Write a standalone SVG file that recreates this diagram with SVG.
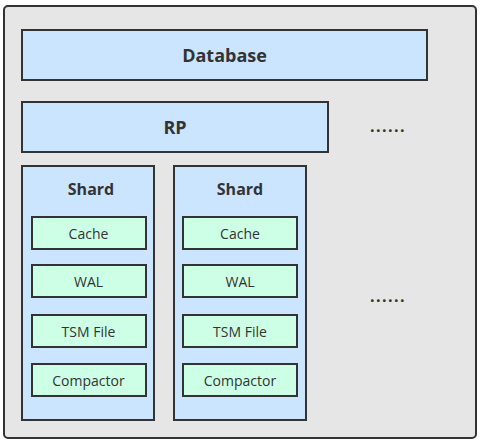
<svg xmlns="http://www.w3.org/2000/svg" width="482" height="442" viewBox="0 0 482 442">
<style>
.frame{fill:#e6e6e6;stroke:#333;stroke-width:2}
.blue{fill:#cce5ff;stroke:#333;stroke-width:2}
.green{fill:#ccffe6;stroke:#333;stroke-width:2}
.t{font-family:"Open Sans","Noto Sans",sans-serif;fill:#333;text-anchor:middle}
.big{font-size:18px;font-weight:bold}
.mid{font-size:16px;font-weight:bold}
.small{font-size:14px}
.dots{font-family:"Open Sans",sans-serif;font-size:16px;font-weight:bold;fill:#333;text-anchor:middle;letter-spacing:1.4px}
</style>
<rect x="0" y="0" width="482" height="442" fill="#ffffff"/>
<g id="container"><rect class="frame" x="4" y="6" width="472" height="432" rx="4"/></g>
<g id="database"><rect class="blue" x="22" y="30" width="405" height="50"/><text class="t big" x="224.5" y="61.5">Database</text></g>
<g id="rp"><rect class="blue" x="22" y="102" width="306" height="50"/><text class="t big" x="175" y="133.5">RP</text></g>
<g id="dots1"><text class="dots" x="388" y="132">......</text></g>
<g id="dots2"><text class="dots" x="388" y="302">......</text></g>
<g id="shard1">
<rect class="blue" x="22" y="166" width="132" height="254"/>
<text class="t mid" x="91" y="195">Shard</text>
<rect class="green" x="32" y="217" width="114" height="32"/><text class="t small" x="88.5" y="238.5">Cache</text>
<rect class="green" x="32" y="265" width="114" height="32"/><text class="t small" x="88.5" y="286.5">WAL</text>
<rect class="green" x="32" y="315" width="114" height="32"/><text class="t small" x="88.5" y="336.5">TSM File</text>
<rect class="green" x="32" y="364" width="114" height="32"/><text class="t small" x="88.5" y="385.5">Compactor</text>
</g>
<g id="shard2">
<rect class="blue" x="174" y="166" width="132" height="254"/>
<text class="t mid" x="240" y="195">Shard</text>
<rect class="green" x="183" y="217" width="114" height="32"/><text class="t small" x="240" y="238.5">Cache</text>
<rect class="green" x="183" y="265" width="114" height="32"/><text class="t small" x="240" y="286.5">WAL</text>
<rect class="green" x="183" y="315" width="114" height="32"/><text class="t small" x="240" y="336.5">TSM File</text>
<rect class="green" x="183" y="364" width="114" height="32"/><text class="t small" x="240" y="385.5">Compactor</text>
</g>
<g id="connectors"></g>
</svg>
